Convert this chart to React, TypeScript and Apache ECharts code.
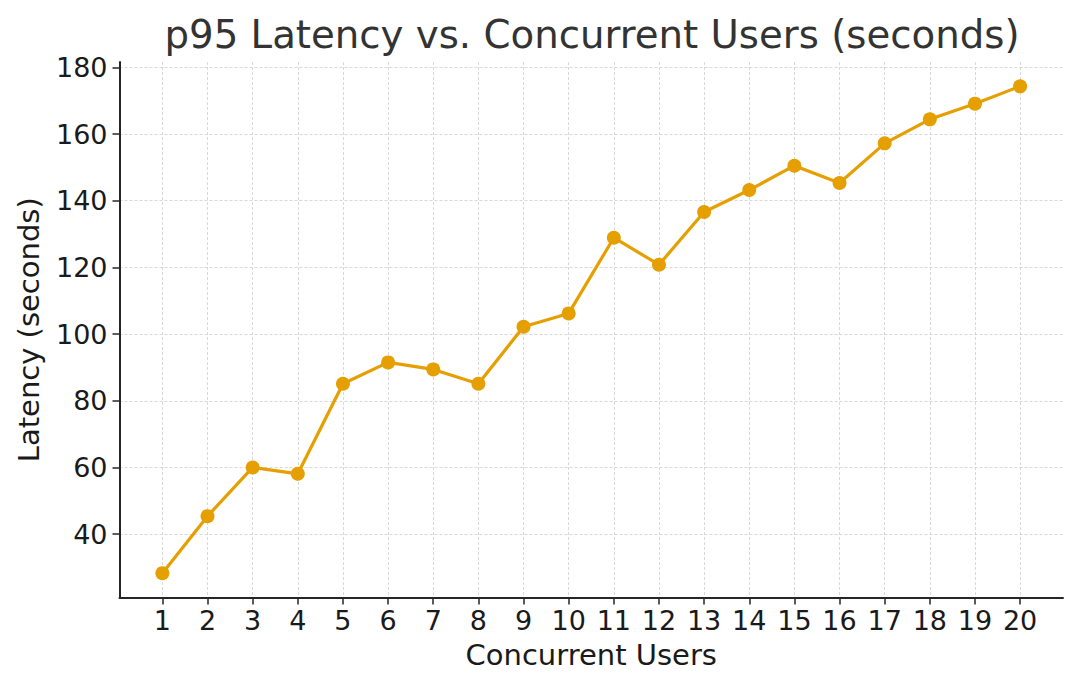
import React, { useEffect, useRef } from "react";
import * as echarts from "echarts";

const users = [1, 2, 3, 4, 5, 6, 7, 8, 9, 10, 11, 12, 13, 14, 15, 16, 17, 18, 19, 20];
const latency = [28.3, 45.4, 60.0, 58.1, 85.1, 91.5, 89.4, 85.1, 102.2, 106.2, 128.9, 120.8, 136.6, 143.2, 150.5, 145.3, 157.2, 164.4, 169.1, 174.3];
const xTicks = [1, 2, 3, 4, 5, 6, 7, 8, 9, 10, 11, 12, 13, 14, 15, 16, 17, 18, 19, 20];
const yTicks = [40, 60, 80, 100, 120, 140, 160, 180];

const FONT = "DejaVu Sans";

export default function App() {
  const ref = useRef<HTMLDivElement>(null);
  useEffect(() => {
    const chart = echarts.init(ref.current!, undefined, { renderer: "svg" });
    const axisLineStyle = { color: "#262626", width: 2 };
    const gridStyle = { color: "#cfcfcf", width: 0.8, type: [3, 2] as any };
    chart.setOption({
      animation: false,
      backgroundColor: "#ffffff",
      title: {
        text: "p95 Latency vs. Concurrent Users (seconds)",
        left: 587,
        top: 10,
        textAlign: "center",
        textStyle: { fontFamily: FONT, fontSize: 38.7, fontWeight: "normal", color: "#333333" },
      },
      grid: { left: 119.5, right: 17, top: 62, bottom: 91.5, containLabel: false },
      xAxis: {
        type: "value",
        min: 0.05,
        max: 20.95,
        minInterval: 1,
        maxInterval: 1,
        name: "Concurrent Users",
        nameLocation: "middle",
        nameGap: 43,
        nameTextStyle: { fontFamily: FONT, fontSize: 29, color: "#1a1a1a" },
        axisLine: { show: true, onZero: false, lineStyle: axisLineStyle },
        axisTick: { show: true, inside: false, length: 7, lineStyle: { color: "#262626", width: 1.5 }, customValues: xTicks },
        axisLabel: {
          fontFamily: FONT,
          fontSize: 27,
          color: "#1a1a1a",
          margin: 9,
          customValues: xTicks,
          formatter: (v: number) => (Number.isInteger(v) ? String(v) : ""),
        },
        splitLine: { show: true, lineStyle: gridStyle },
      },
      yAxis: {
        type: "value",
        min: 21.0,
        max: 181.6,
        minInterval: 20,
        maxInterval: 20,
        name: "Latency (seconds)",
        nameLocation: "middle",
        nameGap: 76,
        nameTextStyle: { fontFamily: FONT, fontSize: 29, color: "#1a1a1a" },
        axisLine: { show: true, onZero: false, lineStyle: axisLineStyle },
        axisTick: { show: true, inside: false, length: 7, lineStyle: { color: "#262626", width: 1.5 }, customValues: yTicks },
        axisLabel: {
          fontFamily: FONT,
          fontSize: 27,
          color: "#1a1a1a",
          margin: 12,
          customValues: yTicks,
          formatter: (v: number) => (v % 20 === 0 ? String(v) : ""),
        },
        splitLine: { show: true, lineStyle: gridStyle },
      },
      series: [
        {
          type: "line",
          data: users.map((u, i) => [u, latency[i]]),
          symbol: "circle",
          symbolSize: 14,
          lineStyle: { color: "#E69F00", width: 3.2 },
          itemStyle: { color: "#E69F00" },
          z: 3,
        },
      ],
    });
    return () => chart.dispose();
  }, []);
  return (
    <div
      ref={ref}
      style={{ position: "fixed", left: 0, top: 0, width: 1080, height: 689 }}
    />
  );
}
